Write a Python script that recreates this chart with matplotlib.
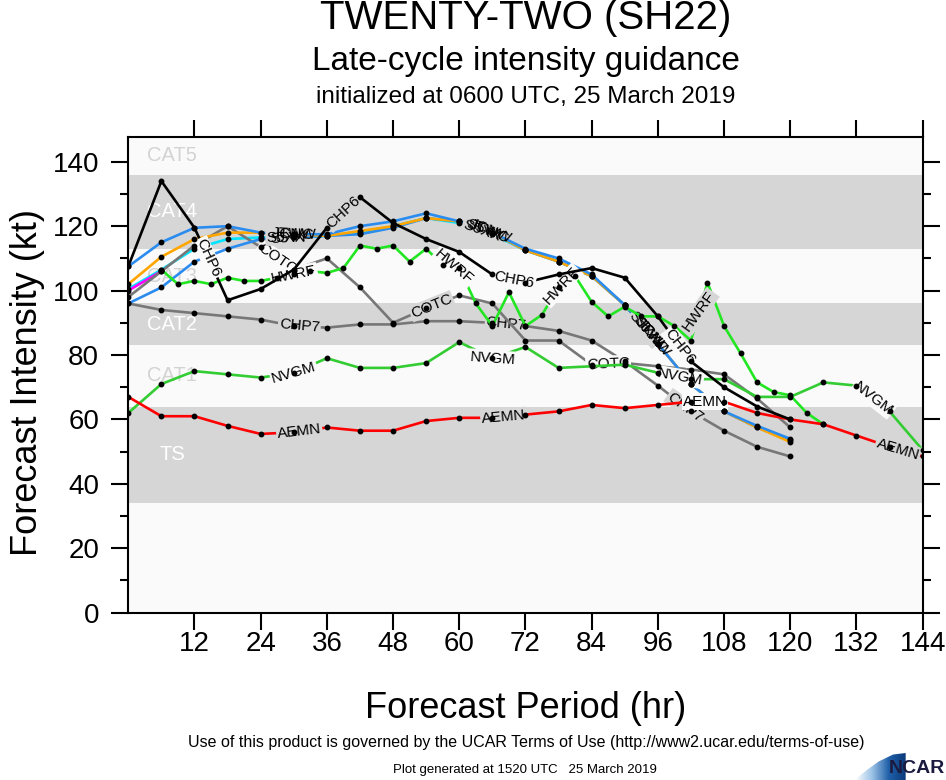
import numpy as np
import matplotlib
matplotlib.use("Agg")
import matplotlib.pyplot as plt
from matplotlib.patches import Polygon

plt.rcParams["font.family"] = ["Liberation Sans", "DejaVu Sans"]

# forecast hours
hours = np.arange(0, 145, 6)
hours_120 = np.arange(0, 121, 6)
hours_96 = np.arange(0, 97, 6)
hours_hwrf = np.arange(6, 127, 3)

# intensity guidance (kt)
aemn = [67, 61, 61, 58, 55.5, 56, 57.5, 56.5, 56.5, 59.5, 60.5, 60.5, 61.5,
        62.5, 64.5, 63.5, 64.5, 65.5, 65.5, 62, 60, 58.5, 55, 51.5, 48.5]
nvgm = [62, 71, 75, 74, 73, 74.5, 79, 76, 76, 77.5, 84, 79, 82.5, 76, 76.5,
        77, 74.5, 72.5, 72.5, 67, 67, 71.5, 70.5, 62.5, 50.5]
chp6 = [107.5, 134, 119.5, 97, 100.5, 106.5, 119.5, 129, 121, 116, 112, 105,
        102.5, 105, 107, 104, 92, 78, 70, 64, 60]
cotc = [98, 106, 114, 120, 113.5, 106.5, 110, 101, 90, 94.5, 98.5, 96, 84.5,
        84.5, 77, 77.5, 76.5, 75.5, 74, 66.5, 57.5]
chp7 = [96, 94, 93, 92, 91, 89, 88.5, 89.5, 89.5, 90.5, 90.5, 90, 89, 87.5,
        84.5, 78, 70.5, 62.5, 56.5, 51.5, 48.5]
hwrf = [106.5, 102, 103, 102, 104, 103, 103, 104, 105, 106, 105.5, 107, 114,
        113, 114, 109, 113, 108, 107, 96, 89, 99.5, 89, 92.5, 101, 104.5, 96.5,
        92, 95, 92, 92, 89, 84.5, 102.5, 89, 80.5, 71.5, 68.5, 67.5, 62, 58.5]
jtwc = [102, 110.5, 116, 118, 118, 117.5, 117, 118.5, 120, 122.5, 121.5, 118,
        112.5, 109, 104.5, 95.5, 83.5, 71, 62.5, 57.5, 53]
icnw = [107.5, 115, 119.5, 120, 118, 117.5, 117.5, 120, 121.5, 124, 121.5,
        118, 113, 110, 105, 95.5, 83.5, 71, 62.5, 58, 54]
s5yy = [96, 101, 109, 113, 116, 116.5, 117, 117.5, 119.5, 122.5, 121.5, 118,
        112.5, 109, 104.5, 95.5, 83.5, 71, 62.5, 57.5, 53.5]
s5xx = [100.5, 106.5, 113, 116, 116.5, 116.5, 117, 118, 120, 122.5, 121,
        117.5, 112.5, 109, 104.5, 95.5, 83.5]
hwfi_hours = [0, 6]
hwfi = [100, 106]

# category bands
band_edges = [0, 34, 64, 83, 96, 113, 136, 147.6]
band_names = ["", "TS", "CAT1", "CAT2", "CAT3", "CAT4", "CAT5"]
band_gray = [False, True, False, True, False, True, False]

BG = "#fafafa"
GRAY = "#d6d6d6"

fig = plt.figure(figsize=(9.46, 7.80), dpi=100)
ax = fig.add_axes([0.1356, 0.2145, 0.8397, 0.6095])
ax.set_facecolor(BG)
ax.set_xlim(0, 144)
ax.set_ylim(0, 147.6)

for i, name in enumerate(band_names):
    lo, hi = band_edges[i], band_edges[i + 1]
    if band_gray[i]:
        ax.axhspan(lo, hi, color=GRAY, lw=0, zorder=0)
    if name:
        ax.text(8, (lo + hi) / 2, name, fontsize=14.5, ha="center", va="center",
                color="white" if band_gray[i] else "#d3d3d3", zorder=1)


def band_color(y):
    for i in range(len(band_names)):
        if band_edges[i] <= y < band_edges[i + 1]:
            return GRAY if band_gray[i] else BG
    return BG


sx = 794.4 / 144
sy = 475.4 / 147.6

# name, hours, values, colour, label hours, label shift (hr)
series = [
    ("S5XX", hours_96, s5xx, "#00e5ff", [29.5, 65, 94.5], -0.9),
    ("HWFI", hwfi_hours, hwfi, "#ff00ff", [], 0),
    ("CHP7", hours_120, chp7, "#777777", [31, 68.5, 101], 0),
    ("COTC", hours_120, cotc, "#777777", [27, 55, 87], 0),
    ("S5YY", hours_120, s5yy, "#2b8cf0", [29.5, 65, 94.5], -0.3),
    ("JTWC", hours_120, jtwc, "#ffa500", [29.5, 65, 94.5], 0.3),
    ("ICNW", hours_120, icnw, "#2b8cf0", [29.5, 65, 94.5], 0.9),
    ("HWRF", hours_hwrf, hwrf, "#22e622", [30, 59, 78.5, 103.5], 0),
    ("NVGM", hours, nvgm, "#33cc33", [30, 66, 100, 135], 0),
    ("AEMN", hours, aemn, "#ff0000", [31, 68, 104.5, 139.5], 0),
    ("CHP6", hours_120, chp6, "black", [14.5, 39, 70, 100], 0),
]
cluster = {"S5XX", "S5YY", "JTWC", "ICNW"}

for i, (name, hrs, vals, color, lab_hours, shift) in enumerate(series):
    z = 3 + i * 0.1
    ax.plot(hrs, vals, color=color, lw=1.9, zorder=z, solid_joinstyle="miter")
    ax.plot(hrs, vals, "o", color="black", ms=3.2, zorder=20)
    zl = 3.65 if name in cluster else z + 0.05
    for h in lab_hours:
        h = h + shift
        y = np.interp(h, hrs, vals)
        y1 = np.interp(h - 2.5, hrs, vals)
        y2 = np.interp(h + 2.5, hrs, vals)
        ang = np.degrees(np.arctan2((y2 - y1) * sy, 5 * sx))
        fc = "none" if name in cluster and name != "S5XX" else band_color(y)
        ax.text(h, y, name, fontsize=11, rotation=ang, rotation_mode="anchor",
                ha="center", va="center", color="black", zorder=zl,
                bbox=dict(boxstyle="square,pad=0.08", fc=fc, ec="none"))

ax.set_xticks(range(12, 145, 12))
ax.set_yticks(range(0, 141, 20))
ax.set_yticks(range(10, 141, 20), minor=True)
ax.tick_params(which="both", direction="out", top=True, right=True, width=1.5,
               labelsize=20)
ax.tick_params(which="major", length=12)
ax.tick_params(which="minor", length=6)
ax.tick_params(axis="y", pad=9)
ax.tick_params(axis="x", pad=1)
for sp in ax.spines.values():
    sp.set_linewidth(1.5)

fig.text(0.5556, 0.977, "TWENTY-TWO (SH22)", fontsize=29, ha="center", va="center")
fig.text(0.5556, 0.921, "Late-cycle intensity guidance", fontsize=24,
         ha="center", va="center")
fig.text(0.5556, 0.876, "initialized at 0600 UTC, 25 March 2019", fontsize=17.5,
         ha="center", va="center")
fig.text(28 / 946, 1 - 383 / 780, "Forecast Intensity (kt)", fontsize=26,
         rotation=90, ha="center", va="center")
fig.text(0.5556, 1 - 708 / 780, "Forecast Period (hr)", fontsize=26,
         ha="center", va="center")
fig.text(526 / 946, 1 - 742 / 780,
         "Use of this product is governed by the UCAR Terms of Use "
         "(http://www2.ucar.edu/terms-of-use)", fontsize=11.5,
         ha="center", va="center")
fig.text(525 / 946, 1 - 770 / 780,
         "Plot generated at 1520 UTC   25 March 2019", fontsize=9.5,
         ha="center", va="center")

# NCAR logo
lax = fig.add_axes([850 / 946, 0, 96 / 946, 30 / 780])
lax.set_xlim(0, 1)
lax.set_ylim(0, 1)
lax.axis("off")
grad = np.linspace(0, 1, 256).reshape(1, -1)
cmap = matplotlib.colors.LinearSegmentedColormap.from_list(
    "ncar", ["#ffffff", "#9cc3e6", "#1f5fa8", "#0b3a7a"])
img = lax.imshow(grad, extent=(0.05, 0.58, 0, 1), aspect="auto", cmap=cmap)
swoosh = Polygon([(0.05, 0.0), (0.58, 0.0), (0.58, 0.9), (0.45, 0.85),
                  (0.3, 0.62), (0.17, 0.32)], closed=True, transform=lax.transData)
img.set_clip_path(swoosh)
lax.text(0.985, 0.38, "NCAR", fontsize=14, fontweight="bold", color="#1b1b40",
         ha="right", va="center",
         family=["Liberation Sans Narrow", "Liberation Sans", "DejaVu Sans"])

fig.savefig("out.png", dpi=100)
